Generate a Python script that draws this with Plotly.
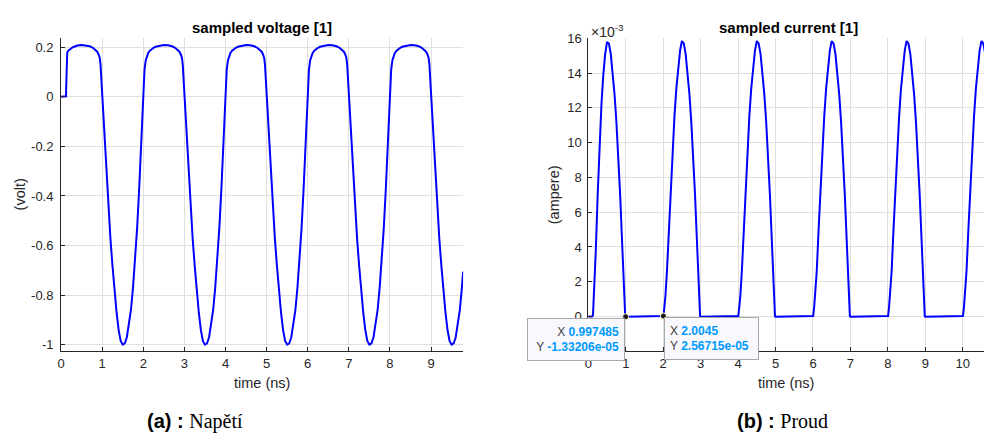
import plotly.graph_objects as go
import numpy as np

# ---------------- data ----------------
# sampled voltage across the diode (V), time in ns
t_volt = [
    0.00, 0.05, 0.10, 0.12, 0.135, 0.15, 0.17, 0.20, 0.25, 0.30, 0.40, 0.50, 0.60, 0.70, 0.78, 0.84, 0.88, 0.91, 0.94, 0.96, 0.98,
    1.00, 1.05, 1.10, 1.15, 1.20, 1.25, 1.30, 1.35, 1.40, 1.45, 1.50, 1.55, 1.60, 1.65, 1.70, 1.75, 1.80, 1.85, 1.90, 1.95,
    2.00, 2.03, 2.06, 2.09, 2.12, 2.16, 2.20, 2.25, 2.30, 2.40, 2.50, 2.60, 2.70, 2.78, 2.84, 2.88, 2.91, 2.94, 2.96, 2.98,
    3.00, 3.05, 3.10, 3.15, 3.20, 3.25, 3.30, 3.35, 3.40, 3.45, 3.50, 3.55, 3.60, 3.65, 3.70, 3.75, 3.80, 3.85, 3.90, 3.95,
    4.00, 4.03, 4.06, 4.09, 4.12, 4.16, 4.20, 4.25, 4.30, 4.40, 4.50, 4.60, 4.70, 4.78, 4.84, 4.88, 4.91, 4.94, 4.96, 4.98,
    5.00, 5.05, 5.10, 5.15, 5.20, 5.25, 5.30, 5.35, 5.40, 5.45, 5.50, 5.55, 5.60, 5.65, 5.70, 5.75, 5.80, 5.85, 5.90, 5.95,
    6.00, 6.03, 6.06, 6.09, 6.12, 6.16, 6.20, 6.25, 6.30, 6.40, 6.50, 6.60, 6.70, 6.78, 6.84, 6.88, 6.91, 6.94, 6.96, 6.98,
    7.00, 7.05, 7.10, 7.15, 7.20, 7.25, 7.30, 7.35, 7.40, 7.45, 7.50, 7.55, 7.60, 7.65, 7.70, 7.75, 7.80, 7.85, 7.90, 7.95,
    8.00, 8.03, 8.06, 8.09, 8.12, 8.16, 8.20, 8.25, 8.30, 8.40, 8.50, 8.60, 8.70, 8.78, 8.84, 8.88, 8.91, 8.94, 8.96, 8.98,
    9.00, 9.05, 9.10, 9.15, 9.20, 9.25, 9.30, 9.35, 9.40, 9.45, 9.50, 9.55, 9.60, 9.65, 9.70, 9.75, 9.78,
]
v_volt = [
    0.000, 0.000, 0.000, 0.002, 0.100, 0.178, 0.185, 0.190, 0.196, 0.201, 0.207, 0.209, 0.208, 0.204, 0.197, 0.190, 0.182, 0.172, 0.158, 0.130, 0.070,
    0.000, -0.150, -0.300, -0.440, -0.570, -0.680, -0.780, -0.870, -0.940, -0.985, -1.000, -0.995, -0.970, -0.920, -0.860, -0.770, -0.660, -0.530, -0.370, -0.190,
    0.030, 0.110, 0.148, 0.166, 0.177, 0.186, 0.193, 0.198, 0.202, 0.207, 0.209, 0.208, 0.204, 0.197, 0.190, 0.182, 0.172, 0.158, 0.130, 0.070,
    0.000, -0.150, -0.300, -0.440, -0.570, -0.680, -0.780, -0.870, -0.940, -0.985, -1.000, -0.995, -0.970, -0.920, -0.860, -0.770, -0.660, -0.530, -0.370, -0.190,
    0.030, 0.110, 0.148, 0.166, 0.177, 0.186, 0.193, 0.198, 0.202, 0.207, 0.209, 0.208, 0.204, 0.197, 0.190, 0.182, 0.172, 0.158, 0.130, 0.070,
    0.000, -0.150, -0.300, -0.440, -0.570, -0.680, -0.780, -0.870, -0.940, -0.985, -1.000, -0.995, -0.970, -0.920, -0.860, -0.770, -0.660, -0.530, -0.370, -0.190,
    0.030, 0.110, 0.148, 0.166, 0.177, 0.186, 0.193, 0.198, 0.202, 0.207, 0.209, 0.208, 0.204, 0.197, 0.190, 0.182, 0.172, 0.158, 0.130, 0.070,
    0.000, -0.150, -0.300, -0.440, -0.570, -0.680, -0.780, -0.870, -0.940, -0.985, -1.000, -0.995, -0.970, -0.920, -0.860, -0.770, -0.660, -0.530, -0.370, -0.190,
    0.030, 0.110, 0.148, 0.166, 0.177, 0.186, 0.193, 0.198, 0.202, 0.207, 0.209, 0.208, 0.204, 0.197, 0.190, 0.182, 0.172, 0.158, 0.130, 0.070,
    0.000, -0.150, -0.300, -0.440, -0.570, -0.680, -0.780, -0.870, -0.940, -0.985, -1.000, -0.995, -0.970, -0.920, -0.860, -0.770, -0.705,
]

# sampled diode current (mA), time in ns
t_curr = [
    0.00, 0.10, 0.124, 0.14, 0.16, 0.20, 0.25, 0.30, 0.35, 0.40, 0.45, 0.50, 0.55, 0.60, 0.65, 0.70, 0.75, 0.80, 0.85, 0.90, 0.94, 0.965, 0.985, 0.997485, 1.25, 1.50, 1.75,
    2.0045, 2.03, 2.06, 2.10, 2.15, 2.20, 2.25, 2.30, 2.35, 2.40, 2.45, 2.50, 2.55, 2.60, 2.65, 2.70, 2.75, 2.80, 2.85, 2.90, 2.94, 2.965, 2.985, 2.9975, 3.25, 3.50, 3.75,
    4.0045, 4.03, 4.06, 4.10, 4.15, 4.20, 4.25, 4.30, 4.35, 4.40, 4.45, 4.50, 4.55, 4.60, 4.65, 4.70, 4.75, 4.80, 4.85, 4.90, 4.94, 4.965, 4.985, 4.9975, 5.25, 5.50, 5.75,
    6.0045, 6.03, 6.06, 6.10, 6.15, 6.20, 6.25, 6.30, 6.35, 6.40, 6.45, 6.50, 6.55, 6.60, 6.65, 6.70, 6.75, 6.80, 6.85, 6.90, 6.94, 6.965, 6.985, 6.9975, 7.25, 7.50, 7.75,
    8.0045, 8.03, 8.06, 8.10, 8.15, 8.20, 8.25, 8.30, 8.35, 8.40, 8.45, 8.50, 8.55, 8.60, 8.65, 8.70, 8.75, 8.80, 8.85, 8.90, 8.94, 8.965, 8.985, 8.9975, 9.25, 9.50, 9.75,
    10.0045, 10.03, 10.06, 10.10, 10.15, 10.20, 10.25, 10.30, 10.35, 10.40, 10.45, 10.50, 10.55, 10.60, 10.65,
]
i_curr_mA = [
    0.0, 0.0, 0.05, 0.7, 1.5, 3.8, 7.0, 9.9, 12.2, 13.9, 15.1, 15.8, 15.7, 15.1, 14.1, 12.8, 11.2, 9.3, 7.0, 4.4, 2.0, 0.7, 0.02, -0.0133206, -0.009, 0.0, 0.009,
    0.0256715, 0.5, 1.2, 2.6, 5.0, 7.4, 9.6, 11.5, 13.1, 14.4, 15.3, 15.85, 15.7, 15.1, 14.1, 12.8, 11.2, 9.3, 7.0, 4.4, 2.0, 0.7, 0.02, -0.013, -0.009, 0.0, 0.009,
    0.026, 0.5, 1.2, 2.6, 5.0, 7.4, 9.6, 11.5, 13.1, 14.4, 15.3, 15.85, 15.7, 15.1, 14.1, 12.8, 11.2, 9.3, 7.0, 4.4, 2.0, 0.7, 0.02, -0.013, -0.009, 0.0, 0.009,
    0.026, 0.5, 1.2, 2.6, 5.0, 7.4, 9.6, 11.5, 13.1, 14.4, 15.3, 15.85, 15.7, 15.1, 14.1, 12.8, 11.2, 9.3, 7.0, 4.4, 2.0, 0.7, 0.02, -0.013, -0.009, 0.0, 0.009,
    0.026, 0.5, 1.2, 2.6, 5.0, 7.4, 9.6, 11.5, 13.1, 14.4, 15.3, 15.85, 15.7, 15.1, 14.1, 12.8, 11.2, 9.3, 7.0, 4.4, 2.0, 0.7, 0.02, -0.013, -0.009, 0.0, 0.009,
    0.026, 0.5, 1.2, 2.6, 5.0, 7.4, 9.6, 11.5, 13.1, 14.4, 15.3, 15.85, 15.7, 15.1, 14.1,
]

# data tips on the current trace (ns, A)
tip_time = [0.997485, 2.0045]
tip_current = [-1.33206e-05, 2.56715e-05]

# axis ticks
volt_ticks = [-1.0, -0.8, -0.6, -0.4, -0.2, 0.0, 0.2]
volt_tick_labels = ["-1", "-0.8", "-0.6", "-0.4", "-0.2", "0", "0.2"]
curr_ticks_mA = [0, 2, 4, 6, 8, 10, 12, 14, 16]
time_ticks_a = [0, 1, 2, 3, 4, 5, 6, 7, 8, 9]
time_ticks_b = [0, 1, 2, 3, 4, 5, 6, 7, 8, 9, 10]

i_curr_A = np.array(i_curr_mA) * 1e-3

# ---------------- style ----------------
W, H = 984, 436
FONT = "Liberation Sans, Arial, Helvetica, sans-serif"
AXC = "#262626"
GRID = "#dfdfdf"
BLUE = "#0000ff"
TIPBLUE = "#0099ff"


def px(xp):
    return xp / W


def py(yp):
    return (H - yp) / H


ydom = [py(350.7), py(32.0)]

fig = go.Figure()
fig.add_trace(go.Scatter(x=t_volt, y=v_volt, mode="lines",
                         line=dict(color=BLUE, width=2), xaxis="x", yaxis="y",
                         hoverinfo="skip"))
fig.add_trace(go.Scatter(x=t_curr, y=i_curr_A, mode="lines",
                         line=dict(color=BLUE, width=2), xaxis="x2", yaxis="y2",
                         hoverinfo="skip"))

axis_common = dict(
    showgrid=True, gridcolor=GRID, gridwidth=1,
    showline=True, linecolor=AXC, linewidth=1, mirror=False,
    ticks="inside", ticklen=4, tickwidth=1, tickcolor=AXC,
    tickfont=dict(family=FONT, size=13, color=AXC),
    zeroline=False, fixedrange=True,
)

fig.update_layout(
    width=W, height=H,
    margin=dict(l=0, r=0, t=0, b=0),
    paper_bgcolor="white", plot_bgcolor="white",
    showlegend=False,
    xaxis=dict(domain=[px(57.3), px(461.0)], range=[0, 9.78], anchor="y",
               tickvals=time_ticks_a, ticktext=[str(v) for v in time_ticks_a],
               **axis_common),
    yaxis=dict(domain=ydom, range=[-1.0265, 0.2356], anchor="x",
               tickvals=volt_ticks, ticktext=volt_tick_labels,
               ticklabelstandoff=4, **axis_common),
    xaxis2=dict(domain=[px(586.7), 1.0], range=[0, 10.567], anchor="y2",
                tickvals=time_ticks_b, ticktext=[str(v) for v in time_ticks_b],
                **axis_common),
    yaxis2=dict(domain=ydom, range=[-0.002, 0.016], anchor="x2",
                tickvals=[v * 1e-3 for v in curr_ticks_mA],
                ticktext=[str(v) for v in curr_ticks_mA],
                ticklabelstandoff=3, **axis_common),
)

# data-tip markers
fig.add_trace(go.Scatter(x=tip_time, y=tip_current, mode="markers",
                         marker=dict(size=6, color="#1a1a1a",
                                     line=dict(color="#fff6c8", width=1)),
                         xaxis="x2", yaxis="y2", cliponaxis=False,
                         hoverinfo="skip"))

annotations = []


def txt(x, y, text, size, bold=False, color=AXC, angle=0, xanchor="center",
        yanchor="middle", family=FONT):
    annotations.append(dict(
        x=px(x), y=py(y), xref="paper", yref="paper", text=f"<b>{text}</b>" if bold else text,
        showarrow=False, font=dict(family=family, size=size, color=color),
        textangle=angle, xanchor=xanchor, yanchor=yanchor))


# titles and axis labels
txt(259, 21, "sampled voltage [1]", 15, bold=True, color="#000000")
txt(788, 21, "sampled current [1]", 15, bold=True, color="#000000")
txt(259, 383, "time (ns)", 14.5)
txt(785, 383, "time (ns)", 14.5)
txt(17, 191, "(volt)", 14.5, angle=-90)
txt(553, 191, "(ampere)", 14.5, angle=-90)
txt(587, 24, "×10<sup>-3</sup>", 14, xanchor="left")

# data-tip boxes
for k, (tx, ty) in enumerate(zip(tip_time, tip_current)):
    lab = (f'<span style="color:#404040">X</span> <b>{tx:g}</b><br>'
           f'<span style="color:#404040">Y</span> <b>{ty:g}</b>')
    right = k == 0
    annotations.append(dict(
        x=tx, y=ty, xref="x2", yref="y2", text=lab, showarrow=False,
        xanchor="right" if right else "left", yanchor="top",
        xshift=-1 if right else 1, yshift=-1,
        align="right" if right else "left", valign="middle",
        width=86 if right else 83, height=31,
        bgcolor="#f9f9fd", bordercolor="#a8a8a8", borderwidth=1, borderpad=5,
        font=dict(family=FONT, size=12, color=TIPBLUE)))

# captions
for cx, tag, word in [(192, "(a)", "Napětí"), (782, "(b)", "Proud")]:
    annotations.append(dict(
        x=px(cx), y=py(422), xref="paper", yref="paper", showarrow=False,
        text=f'<b>{tag} :</b> <span style="font-family:\'Liberation Serif\', serif">{word}</span>',
        font=dict(family=FONT, size=20, color="#000000"),
        xanchor="center", yanchor="middle"))

fig.update_layout(annotations=annotations)
fig.write_html("out.html")
